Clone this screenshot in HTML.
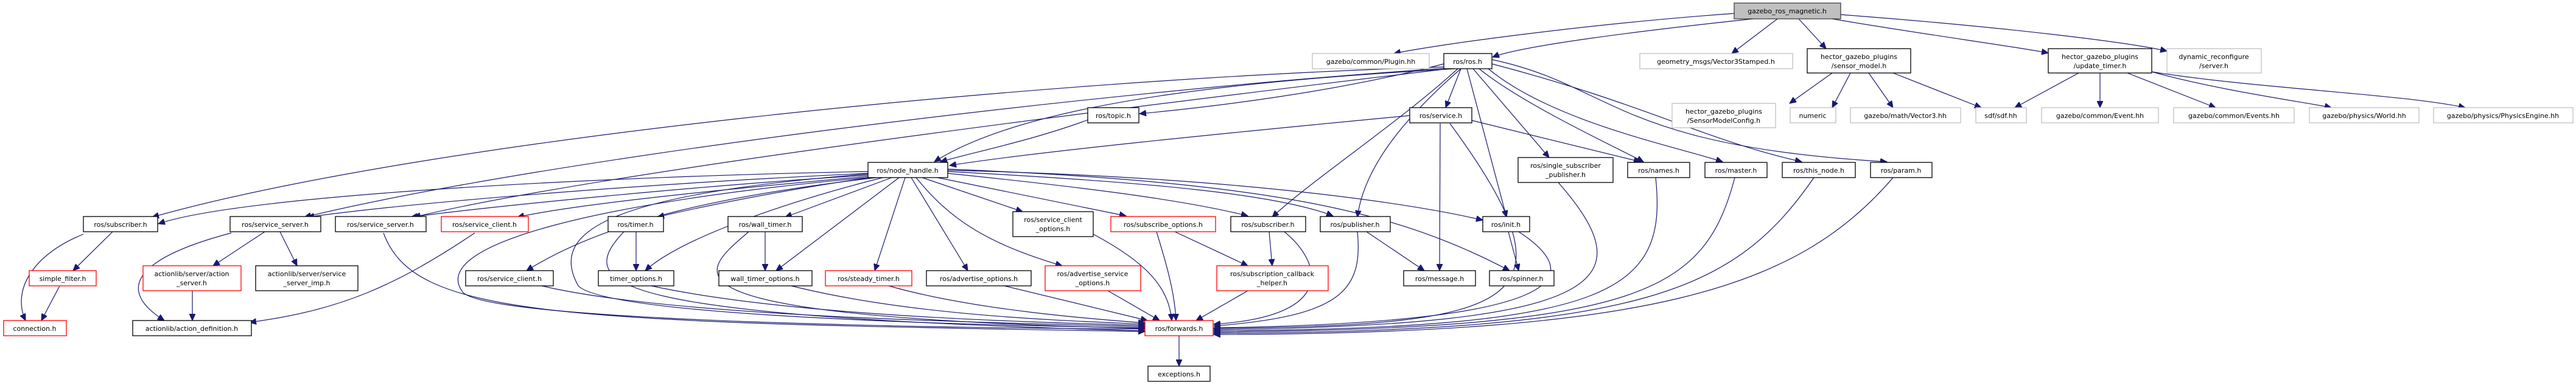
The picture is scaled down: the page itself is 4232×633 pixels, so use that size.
<!DOCTYPE html>
<html><head><meta charset="utf-8"><style>
html,body{margin:0;padding:0;background:#fff;}
svg{display:block;}
text{font-family:"DejaVu Sans","Liberation Sans",sans-serif;font-size:11px;fill:#000;text-anchor:middle;}
.e{fill:none;stroke:#191970;stroke-width:1.2;marker-end:url(#a);}
.b{fill:#fff;stroke:#000;stroke-width:1.3;}
.r{fill:#fff;stroke:#ff0000;stroke-width:1.3;}
.g{fill:#fff;stroke:#bfbfbf;stroke-width:1.3;}
</style></head><body>
<svg width="4232" height="633" viewBox="0 0 4232 633" xmlns="http://www.w3.org/2000/svg">
<defs><marker id="a" markerUnits="userSpaceOnUse" markerWidth="12" markerHeight="10" refX="11" refY="5" orient="auto"><path d="M0,0 L11,5 L0,10 z" fill="#191970" stroke="#191970"/></marker></defs>
<g>
<path class="e" d="M2850,22 C2600,40 2350,75 2290,88"/>
<path class="e" d="M2880,31 C2700,50 2500,75 2452,94"/>
<path class="e" d="M2920,31 L2845,88"/>
<path class="e" d="M2955,31 L3000,80"/>
<path class="e" d="M3010,31 C3150,55 3300,75 3365,87"/>
<path class="e" d="M3024,24 C3300,45 3500,70 3560,84"/>
<path class="e" d="M3010,120 L2940,170"/>
<path class="e" d="M3040,120 L3010,177"/>
<path class="e" d="M3070,120 L3110,177"/>
<path class="e" d="M3110,120 L3255,177"/>
<path class="e" d="M3415,120 L3310,177"/>
<path class="e" d="M3450,120 L3450,177"/>
<path class="e" d="M3495,120 L3640,177"/>
<path class="e" d="M3535,118 C3650,150 3800,170 3830,177"/>
<path class="e" d="M3535,118 C3700,145 3950,155 4050,177"/>
<path class="e" d="M2390,113 C2100,130 1700,160 1535,266"/>
<path class="e" d="M2372,105 C2200,150 2000,175 1872,187"/>
<path class="e" d="M2400,113 L2375,177"/>
<path class="e" d="M2375,110 C1700,130 700,230 250,357"/>
<path class="e" d="M2378,112 C1800,150 900,260 500,357"/>
<path class="e" d="M2380,113 C1900,170 1000,280 680,357"/>
<path class="e" d="M2395,113 C2300,200 2150,300 2090,357"/>
<path class="e" d="M2400,113 C2300,200 2240,280 2230,357"/>
<path class="e" d="M2410,113 L2475,357"/>
<path class="e" d="M2420,113 L2545,259"/>
<path class="e" d="M2430,113 C2500,170 2650,240 2700,266"/>
<path class="e" d="M2445,113 C2550,200 2750,240 2830,266"/>
<path class="e" d="M2451,105 C2700,170 2800,230 2960,266"/>
<path class="e" d="M2451,98 C2650,140 2650,240 3100,266"/>
<path class="e" d="M1790,196 C1700,230 1600,250 1545,266"/>
<path class="e" d="M2316,190 C2000,220 1700,250 1560,272"/>
<path class="e" d="M2418,198 C2550,230 2650,255 2695,266"/>
<path class="e" d="M2366,203 L2365,445"/>
<path class="e" d="M2382,203 C2600,500 2500,535 1994,540"/>
<path class="e" d="M1426,282 C1000,290 400,320 260,368"/>
<path class="e" d="M1426,285 C1100,300 700,330 505,357"/>
<path class="e" d="M1426,288 C1150,305 800,340 675,357"/>
<path class="e" d="M1426,290 C1200,310 950,335 850,357"/>
<path class="e" d="M1430,292 C1300,310 1150,340 1080,357"/>
<path class="e" d="M1440,292 C1200,320 1000,360 865,445"/>
<path class="e" d="M1465,292 L1290,357"/>
<path class="e" d="M1477,292 L1275,445"/>
<path class="e" d="M1487,292 L1437,445"/>
<path class="e" d="M1497,292 L1590,445"/>
<path class="e" d="M1505,292 C1560,360 1620,400 1745,437"/>
<path class="e" d="M1515,292 L1680,348"/>
<path class="e" d="M1540,292 L1850,355"/>
<path class="e" d="M1557,285 C1800,310 1950,330 2050,355"/>
<path class="e" d="M1557,282 C1900,300 2100,320 2190,355"/>
<path class="e" d="M1557,280 C2000,290 2300,330 2436,362"/>
<path class="e" d="M1557,278 C2100,300 2300,350 2480,445"/>
<path class="e" d="M1450,292 C1300,330 1120,390 1060,445"/>
<path class="e" d="M1426,292 C1000,330 700,400 760,480 C800,530 1600,540 1881,541"/>
<path class="e" d="M1426,286 C1000,320 900,380 950,470 C1000,520 1600,535 1881,539"/>
<path class="e" d="M185,381 L120,445"/>
<path class="e" d="M137,385 C50,420 20,480 42,527"/>
<path class="e" d="M98,470 L68,527"/>
<path class="e" d="M435,381 L350,437"/>
<path class="e" d="M460,381 L488,437"/>
<path class="e" d="M380,383 C240,420 180,470 270,527"/>
<path class="e" d="M316,478 L316,527"/>
<path class="e" d="M780,383 C650,470 560,510 410,530"/>
<path class="e" d="M630,383 C680,520 900,530 1881,545"/>
<path class="e" d="M1045,381 L1045,445"/>
<path class="e" d="M1025,381 C940,470 1000,520 1881,544"/>
<path class="e" d="M1257,381 L1257,445"/>
<path class="e" d="M1230,381 C1150,450 1050,520 1881,540"/>
<path class="e" d="M890,470 C1100,520 1600,530 1881,537"/>
<path class="e" d="M1070,470 C1300,520 1700,530 1881,535"/>
<path class="e" d="M1300,470 C1500,520 1750,527 1881,533"/>
<path class="e" d="M1460,470 C1600,510 1800,525 1881,531"/>
<path class="e" d="M1650,470 L1885,527"/>
<path class="e" d="M1820,478 L1905,527"/>
<path class="e" d="M1796,385 C1880,430 1920,470 1925,527"/>
<path class="e" d="M1900,381 C1915,430 1930,480 1932,527"/>
<path class="e" d="M1930,381 L2050,437"/>
<path class="e" d="M2085,381 L2090,437"/>
<path class="e" d="M2110,381 C2170,430 2200,520 1994,533"/>
<path class="e" d="M2050,478 L1965,527"/>
<path class="e" d="M2230,381 C2240,480 2200,520 1994,536"/>
<path class="e" d="M2245,381 L2340,445"/>
<path class="e" d="M2478,381 L2495,445"/>
<path class="e" d="M2495,381 C2600,450 2600,530 1994,539"/>
<path class="e" d="M2560,300 C2700,460 2650,535 1994,542"/>
<path class="e" d="M2720,292 C2740,480 2650,540 1994,544"/>
<path class="e" d="M2850,292 C2800,480 2700,540 1994,546"/>
<path class="e" d="M2980,292 C2850,480 2700,545 1994,548"/>
<path class="e" d="M3110,292 C2950,480 2700,548 1994,550"/>
<path class="e" d="M1937,552 L1937,602"/>
</g>
<g>
<rect x="2849" y="5" width="175" height="26" fill="#bfbfbf" stroke="#404040" stroke-width="1.3"/><text x="2936" y="22">gazebo_ros_magnetic.h</text>
<rect class="g" x="2156" y="88" width="192" height="25"/><text x="2252" y="105">gazebo/common/Plugin.hh</text>
<rect class="b" x="2372" y="88" width="79" height="25"/><text x="2411" y="105">ros/ros.h</text>
<rect class="g" x="2694" y="88" width="251" height="25"/><text x="2819" y="105">geometry_msgs/Vector3Stamped.h</text>
<rect class="b" x="2969" y="80" width="170" height="40"/><text x="3054" y="97">hector_gazebo_plugins</text><text x="3054" y="112">/sensor_model.h</text>
<rect class="b" x="3365" y="80" width="170" height="40"/><text x="3450" y="97">hector_gazebo_plugins</text><text x="3450" y="112">/update_timer.h</text>
<rect class="g" x="3560" y="80" width="155" height="40"/><text x="3637" y="97">dynamic_reconfigure</text><text x="3637" y="112">/server.h</text>
<rect class="b" x="1787" y="177" width="84" height="25"/><text x="1829" y="194">ros/topic.h</text>
<rect class="b" x="2316" y="177" width="102" height="25"/><text x="2367" y="194">ros/service.h</text>
<rect class="g" x="2747" y="170" width="170" height="40"/><text x="2832" y="187">hector_gazebo_plugins</text><text x="2832" y="202">/SensorModelConfig.h</text>
<rect class="g" x="2941" y="177" width="75" height="25"/><text x="2978" y="194">numeric</text>
<rect class="g" x="3040" y="177" width="181" height="25"/><text x="3130" y="194">gazebo/math/Vector3.hh</text>
<rect class="g" x="3246" y="177" width="83" height="25"/><text x="3287" y="194">sdf/sdf.hh</text>
<rect class="g" x="3354" y="177" width="192" height="25"/><text x="3450" y="194">gazebo/common/Event.hh</text>
<rect class="g" x="3571" y="177" width="198" height="25"/><text x="3670" y="194">gazebo/common/Events.hh</text>
<rect class="g" x="3794" y="177" width="180" height="25"/><text x="3884" y="194">gazebo/physics/World.hh</text>
<rect class="g" x="3998" y="177" width="229" height="25"/><text x="4112" y="194">gazebo/physics/PhysicsEngine.hh</text>
<rect class="b" x="1426" y="267" width="131" height="25"/><text x="1491" y="284">ros/node_handle.h</text>
<rect class="b" x="2494" y="259" width="156" height="41"/><text x="2572" y="276">ros/single_subscriber</text><text x="2572" y="291">_publisher.h</text>
<rect class="b" x="2674" y="267" width="102" height="25"/><text x="2725" y="284">ros/names.h</text>
<rect class="b" x="2801" y="267" width="102" height="25"/><text x="2852" y="284">ros/master.h</text>
<rect class="b" x="2928" y="267" width="120" height="25"/><text x="2988" y="284">ros/this_node.h</text>
<rect class="b" x="3073" y="267" width="101" height="25"/><text x="3123" y="284">ros/param.h</text>
<rect class="b" x="137" y="356" width="122" height="25"/><text x="198" y="373">ros/subscriber.h</text>
<rect class="b" x="378" y="356" width="149" height="25"/><text x="452" y="373">ros/service_server.h</text>
<rect class="b" x="551" y="356" width="149" height="25"/><text x="625" y="373">ros/service_server.h</text>
<rect class="r" x="725" y="356" width="143" height="25"/><text x="796" y="373">ros/service_client.h</text>
<rect class="b" x="999" y="356" width="91" height="25"/><text x="1044" y="373">ros/timer.h</text>
<rect class="b" x="1196" y="356" width="122" height="25"/><text x="1257" y="373">ros/wall_timer.h</text>
<rect class="b" x="1664" y="348" width="132" height="41"/><text x="1730" y="365">ros/service_client</text><text x="1730" y="380">_options.h</text>
<rect class="r" x="1825" y="356" width="172" height="25"/><text x="1911" y="373">ros/subscribe_options.h</text>
<rect class="b" x="2022" y="356" width="123" height="25"/><text x="2083" y="373">ros/subscriber.h</text>
<rect class="b" x="2169" y="356" width="115" height="25"/><text x="2226" y="373">ros/publisher.h</text>
<rect class="b" x="2436" y="356" width="77" height="25"/><text x="2474" y="373">ros/init.h</text>
<rect class="r" x="48" y="445" width="110" height="25"/><text x="103" y="462">simple_filter.h</text>
<rect class="r" x="235" y="437" width="161" height="41"/><text x="315" y="454">actionlib/server/action</text><text x="315" y="469">_server.h</text>
<rect class="b" x="420" y="437" width="168" height="41"/><text x="504" y="454">actionlib/server/service</text><text x="504" y="469">_server_imp.h</text>
<rect class="b" x="765" y="445" width="144" height="25"/><text x="837" y="462">ros/service_client.h</text>
<rect class="b" x="983" y="445" width="124" height="25"/><text x="1045" y="462">timer_options.h</text>
<rect class="b" x="1181" y="445" width="153" height="25"/><text x="1257" y="462">wall_timer_options.h</text>
<rect class="r" x="1356" y="445" width="142" height="25"/><text x="1427" y="462">ros/steady_timer.h</text>
<rect class="b" x="1522" y="445" width="172" height="25"/><text x="1608" y="462">ros/advertise_options.h</text>
<rect class="r" x="1717" y="437" width="157" height="41"/><text x="1795" y="454">ros/advertise_service</text><text x="1795" y="469">_options.h</text>
<rect class="r" x="1999" y="437" width="183" height="41"/><text x="2090" y="454">ros/subscription_callback</text><text x="2090" y="469">_helper.h</text>
<rect class="b" x="2306" y="445" width="118" height="25"/><text x="2365" y="462">ros/message.h</text>
<rect class="b" x="2447" y="445" width="106" height="25"/><text x="2500" y="462">ros/spinner.h</text>
<rect class="r" x="6" y="527" width="103" height="25"/><text x="57" y="544">connection.h</text>
<rect class="b" x="218" y="527" width="195" height="25"/><text x="315" y="544">actionlib/action_definition.h</text>
<rect class="r" x="1881" y="527" width="112" height="25"/><text x="1937" y="544">ros/forwards.h</text>
<rect class="b" x="1886" y="602" width="102" height="25"/><text x="1937" y="619">exceptions.h</text>
</g>
</svg>
</body></html>
